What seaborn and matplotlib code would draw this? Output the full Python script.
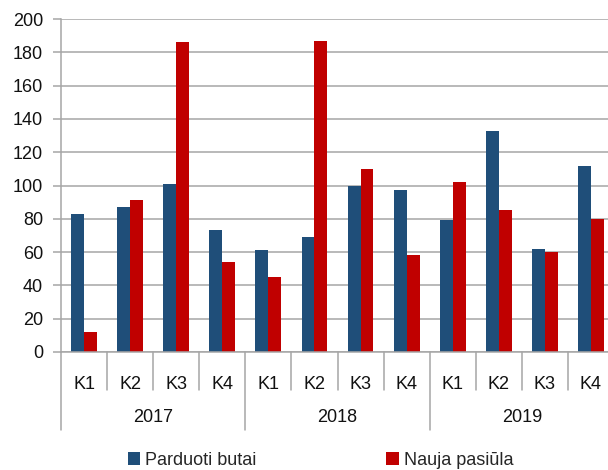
import matplotlib
matplotlib.use("Agg")
import matplotlib.pyplot as plt
import seaborn as sns
import pandas as pd
from matplotlib.patches import Patch
import matplotlib.transforms as mtransforms

years = ["2017", "2018", "2019"]
quarters = ["K1", "K2", "K3", "K4"]
sold = [83, 87, 101, 73, 61, 69, 100, 97, 79, 133, 62, 112]
new_supply = [12, 91, 186, 54, 45, 187, 110, 58, 102, 85, 60, 80]
series_names = ["Parduoti butai", "Nauja pasiūla"]
colors = ["#1F4E79", "#C00000"]

cats = [f"{y} {q}" for y in years for q in quarters]
df = pd.DataFrame({
    "cat": cats * 2,
    "value": sold + new_supply,
    "series": [series_names[0]] * len(cats) + [series_names[1]] * len(cats),
})

sns.set_theme(style="white")
plt.rcParams["font.family"] = ["Liberation Sans", "DejaVu Sans"]
FS = 13
grid_c = "#A6A6A6"

fig = plt.figure(figsize=(6.08, 4.70), dpi=100)
ax = fig.add_axes([61/608, (470-352)/470, 553/608, 333/470])

sns.barplot(data=df, x="cat", y="value", hue="series", order=cats,
            hue_order=series_names, palette=colors, width=0.56,
            saturation=1, edgecolor="none", linewidth=0, ax=ax, legend=False)

ax.set_ylim(0, 200)
ax.set_xlim(-0.5, len(cats) - 0.5)
ax.set_yticks(range(0, 201, 20))
ax.yaxis.grid(True, color=grid_c, linewidth=1.1)
ax.set_axisbelow(True)
ax.set_xlabel("")
ax.set_ylabel("")
for s in ["top", "right"]:
    ax.spines[s].set_visible(False)
for s in ["left", "bottom"]:
    ax.spines[s].set_color(grid_c)
    ax.spines[s].set_linewidth(1.1)
ax.tick_params(axis="y", left=True, length=6, width=1.1, color=grid_c,
               labelsize=FS, pad=7, labelcolor="#111111")
ax.set_xticks(range(len(cats)))
ax.set_xticklabels(quarters * len(years))
ax.tick_params(axis="x", bottom=False, labelsize=FS, pad=11, labelcolor="#111111")

trans = mtransforms.blended_transform_factory(ax.transData, ax.transAxes)
# separators
for i in range(len(cats) + 1):
    x = i - 0.5
    if i % 4 == 0:
        y0 = -0.234
    else:
        y0 = -0.114
    ax.plot([x, x], [0, y0], color=grid_c, linewidth=1.1, transform=trans, clip_on=False)
for j, y in enumerate(years):
    ax.text(j * 4 + 1.5, -0.196, y, transform=trans, ha="center", va="center",
            fontsize=FS, color="#111111")

handles = [Patch(facecolor=c, edgecolor="none") for c in colors]
fig.legend(handles, series_names, loc="center", bbox_to_anchor=(0.527, 0.021),
           ncol=2, frameon=False, fontsize=FS, handlelength=0.7, handleheight=0.7,
           handletextpad=0.25, columnspacing=7.2)

fig.savefig("out.png", dpi=100)
